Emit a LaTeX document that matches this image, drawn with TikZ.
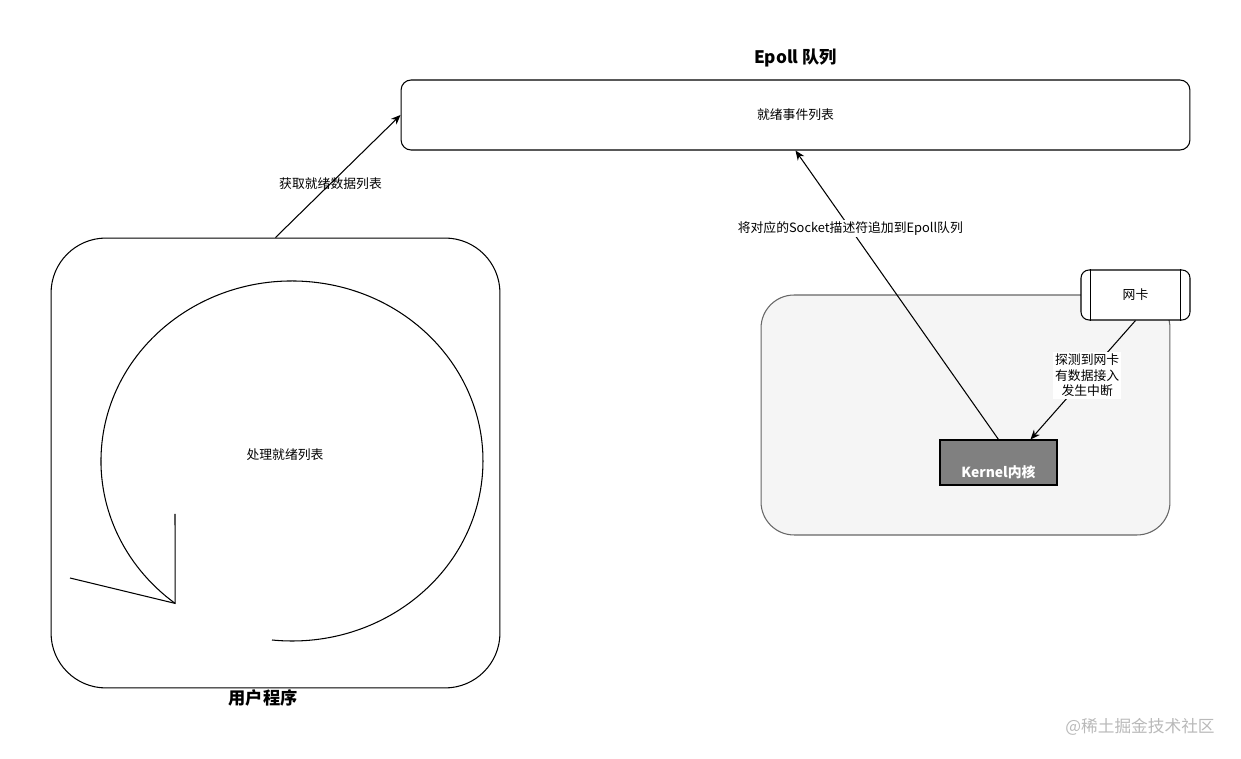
\documentclass[tikz,border=0pt]{standalone}
\usepackage{fontspec}
\setmainfont{Noto Sans CJK SC}
\usetikzlibrary{arrows.meta,positioning}
\definecolor{areafill}{HTML}{F5F5F5}
\definecolor{areadraw}{HTML}{666666}
\definecolor{kernelfill}{HTML}{808080}

\begin{document}
\begin{tikzpicture}[x=0.02cm,y=-0.02cm,line width=0.6pt,>={Stealth[length=5.5pt,width=4.5pt]},
  txt/.style={font=\fontsize{7.3}{9}\selectfont},
  lbl/.style={txt,align=center,fill=white,inner sep=1pt},
  ttl/.style={font=\fontsize{9.8}{12}\selectfont\bfseries}]
\useasboundingbox (0,0) rectangle (1241,759);
\node[draw,rounded corners=0.2cm,minimum width=15.78cm,minimum height=1.4cm,txt] (epoll) at (795.5,115) {就绪事件列表};
\node[ttl,above=0.12cm of epoll] (epolltitle) {Epoll 队列};
\node[draw,rounded corners=1.1cm,minimum width=8.98cm,minimum height=9cm] (user) at (275.5,463) {};
\node[ttl,below=-0.1cm of user,xshift=-0.25cm] (usertitle) {用户程序};
% loop arrow inside the user program
\draw (272,640) arc[start angle=96,end angle=-232.3,x radius=191,y radius=180];
\draw (175,514) -- (175.2,603.4) -- (70,578);
\node[txt] (loop) at (285,455) {处理就绪列表};
\node[draw=areadraw,fill=areafill,rounded corners=0.66cm,minimum width=8.18cm,minimum height=4.8cm] (area) at (965.5,415) {};
\node[draw,fill=white,rounded corners=0.16cm,minimum width=2.18cm,minimum height=1cm,txt] (nic) at (1135.5,295) {网卡};
\draw ([xshift=0.2cm]nic.north west) -- ([xshift=0.2cm]nic.south west);
\draw ([xshift=-0.2cm]nic.north east) -- ([xshift=-0.2cm]nic.south east);
\node[draw,fill=kernelfill,minimum width=2.34cm,minimum height=0.9cm,text=white,font=\fontsize{7.9}{9}\selectfont\bfseries,text height=0.6cm,text depth=0pt] (kernel) at (998.5,462.5) {Kernel内核};
\draw[->] (user.north) -- node[txt,pos=0.44] (getlbl) {获取就绪数据列表} (epoll.west);
\draw[->] (kernel.north) -- node[lbl,pos=0.73] (addlbl) {将对应的Socket描述符追加到Epoll队列} (epoll.south);
\draw[->] (nic.south) -- node[lbl,pos=0.46] (irqlbl) {探测到网卡\\有数据接入\\发生中断} ([xshift=-0.54cm]kernel.north east);
\node[text=gray!55,font=\fontsize{9.5}{11}\selectfont] (mark) at (1140,727) {@稀土掘金技术社区};
\end{tikzpicture}
\end{document}
